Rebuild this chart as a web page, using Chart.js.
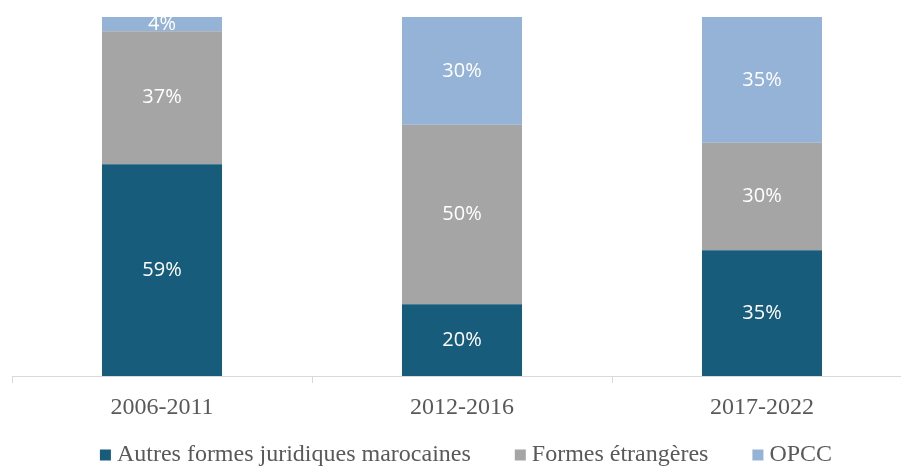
<!DOCTYPE html>
<html>
<head>
<meta charset="utf-8">
<script src="https://cdn.jsdelivr.net/npm/chart.js@4"></script>
<style>
  html, body { margin: 0; padding: 0; overflow: hidden; background: #fff; }
  #wrap { width: 924px; height: 467px; position: relative; }
</style>
</head>
<body>
<div id="wrap"><canvas id="chartBar"></canvas></div>
<script>
const periods = ['2006-2011', '2012-2016', '2017-2022'];
const autresFormes = [59, 20, 35];
const formesEtrangeres = [37, 50, 30];
const opcc = [4, 30, 35];

const serif = "'Liberation Serif', 'Times New Roman', serif";

// writes the percentage in the middle of every bar segment
const barLabels = {
  id: 'barLabels',
  afterDatasetsDraw(chart) {
    const ctx = chart.ctx;
    ctx.save();
    ctx.fillStyle = '#ffffff';
    ctx.font = "20px 'Open Sans', sans-serif";
    ctx.textAlign = 'center';
    ctx.textBaseline = 'middle';
    chart.data.datasets.forEach((ds, i) => {
      chart.getDatasetMeta(i).data.forEach((bar, j) => {
        const { x, y, base } = bar.getProps(['x', 'y', 'base'], true);
        ctx.fillText(ds.data[j] + '%', x, (y + base) / 2);
      });
    });
    ctx.restore();
  }
};

// small square + text legend row under the axis
const bottomLegend = {
  id: 'bottomLegend',
  afterDraw(chart) {
    const ctx = chart.ctx;
    const box = 11, gap = 6, spacing = 44;
    const cy = 455;
    ctx.save();
    ctx.font = '24px ' + serif;
    ctx.textBaseline = 'middle';
    const items = chart.data.datasets.map(ds => ({
      text: ds.label,
      color: ds.backgroundColor,
      w: box + gap + ctx.measureText(ds.label).width
    }));
    const total = items.reduce((s, it) => s + it.w, 0) + spacing * (items.length - 1);
    let x = 466 - total / 2;
    items.forEach(it => {
      ctx.fillStyle = it.color;
      ctx.fillRect(x, cy - box / 2, box, box);
      ctx.fillStyle = '#595959';
      ctx.fillText(it.text, x + box + gap, cy);
      x += it.w + spacing;
    });
    ctx.restore();
  }
};

const dataBarChart = {
  labels: periods,
  datasets: [
    { label: 'Autres formes juridiques marocaines', data: autresFormes, backgroundColor: '#185c7b' },
    { label: 'Formes étrangères', data: formesEtrangeres, backgroundColor: '#a5a5a5' },
    { label: 'OPCC', data: opcc, backgroundColor: '#95b3d7' }
  ]
};

const configBarChart = {
  type: 'bar',
  data: dataBarChart,
  plugins: [barLabels, bottomLegend],
  options: {
    responsive: true,
    maintainAspectRatio: false,
    animation: false,
    datasets: { bar: { categoryPercentage: 1, barPercentage: 0.4, borderWidth: 0 } },
    layout: { padding: { top: 17, left: 12, right: 12, bottom: 45 } },
    plugins: {
      tooltip: { enabled: false },
      legend: { display: false }
    },
    scales: {
      x: {
        stacked: true,
        border: { color: '#d9d9d9', width: 1 },
        grid: { drawOnChartArea: false, offset: true, color: '#d9d9d9', tickLength: 7 },
        ticks: { color: '#595959', padding: 10, font: { family: serif, size: 24 } },
        afterFit: (scale) => { scale.height = 46; }
      },
      y: {
        stacked: true,
        display: false,
        min: 0,
        max: 100
      }
    }
  }
};

const chartBar = new Chart(document.getElementById('chartBar'), configBarChart);
</script>
</body>
</html>
